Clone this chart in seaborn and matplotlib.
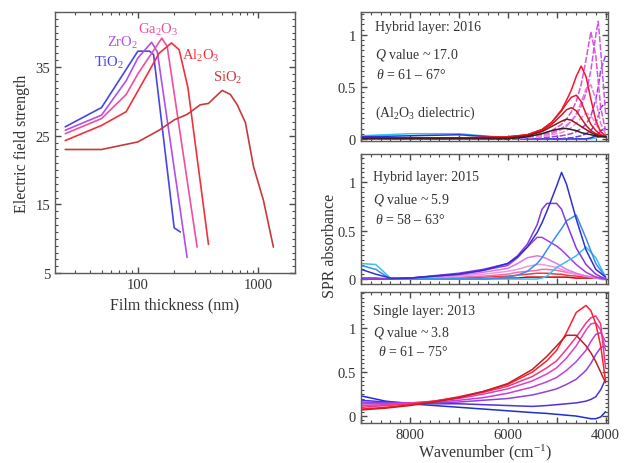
import numpy as np
import pandas as pd
import matplotlib
matplotlib.use('Agg')
import matplotlib.pyplot as plt
import matplotlib.ticker as mticker
import seaborn as sns

# ---- left panel: electric field strength vs film thickness ----
materials = ['TiO$_2$', 'ZrO$_2$', 'Ga$_2$O$_3$', 'Al$_2$O$_3$', 'SiO$_2$']
mat_colors = ['#4646e6', '#b050ea', '#ee4fa0', '#f2303c', '#c83a3a']

tio2_x = [25, 50, 100, 125, 135, 200, 225]
tio2_y = [26.3, 29.1, 37.3, 37.3, 36.8, 11.6, 11.0]
zro2_x = [25, 50, 80, 100, 130, 145, 256]
zro2_y = [25.8, 28.0, 33.0, 36.3, 38.6, 37.2, 7.3]
ga2o3_x = [25, 50, 80, 100, 158, 175, 310]
ga2o3_y = [25.3, 27.5, 31.0, 34.0, 39.2, 38.0, 8.8]
al2o3_x = [25, 50, 80, 100, 150, 190, 220, 260, 385]
al2o3_y = [24.3, 26.5, 28.5, 31.5, 37.0, 38.5, 37.5, 32.0, 9.2]
sio2_x = [25, 50, 100, 150, 200, 256, 329, 385, 500, 585, 667, 780, 910, 1100, 1330]
sio2_y = [23.0, 23.0, 24.1, 25.8, 27.3, 28.1, 29.5, 29.7, 31.6, 31.0, 29.5, 26.9, 20.5, 15.6, 8.8]

label_x = [58, 75, 147, 330, 560]
label_y = [35.8, 38.6, 40.6, 36.8, 33.5]

# ---- right panels: SPR absorbance spectra ----
# 2016 hybrid layer
wn_2016 = [9000, 8000, 7000, 6000, 5600, 5300, 5100, 4900, 4800, 4700, 4600, 4500, 4400, 4300, 4200, 4150, 4100, 4000]
spec_2016 = {
    '#30c8f8': [0.03, 0.05, 0.05, 0.01, 0.00, 0.00, 0.00, 0.00, 0.00, 0.00, 0.00, 0.00, 0.00, 0.00, 0.01, 0.02, 0.03, 0.04],
    '#3030d8': [0.02, 0.03, 0.04, 0.01, 0.00, 0.00, 0.00, 0.00, 0.00, 0.00, 0.00, 0.00, 0.00, 0.01, 0.03, 0.05, 0.08, 0.10],
    '#6a3ce6': [0.01, 0.01, 0.01, 0.00, 0.00, 0.00, 0.00, 0.00, 0.01, 0.01, 0.02, 0.03, 0.05, 0.08, 0.15, 0.22, 0.30, 0.35],
    '#9a44ea': [0.01, 0.01, 0.01, 0.00, 0.01, 0.01, 0.02, 0.03, 0.04, 0.05, 0.07, 0.10, 0.14, 0.22, 0.38, 0.50, 0.66, 0.80],
    '#cc58ea': [0.01, 0.01, 0.01, 0.01, 0.02, 0.04, 0.06, 0.10, 0.13, 0.17, 0.23, 0.31, 0.44, 0.66, 1.00, 1.13, 0.85, 0.25],
    '#e050d8': [0.01, 0.01, 0.01, 0.01, 0.02, 0.05, 0.08, 0.14, 0.19, 0.26, 0.36, 0.52, 0.76, 1.03, 0.80, 0.55, 0.30, 0.08],
    '#ec78e0': [0.01, 0.01, 0.01, 0.01, 0.02, 0.03, 0.05, 0.09, 0.12, 0.17, 0.24, 0.35, 0.48, 0.52, 0.38, 0.26, 0.15, 0.05],
    '#f090d8': [0.00, 0.00, 0.00, 0.01, 0.01, 0.02, 0.04, 0.06, 0.08, 0.11, 0.15, 0.20, 0.25, 0.22, 0.15, 0.10, 0.06, 0.03],
    '#ff1030': [0.01, 0.01, 0.01, 0.02, 0.04, 0.09, 0.16, 0.28, 0.37, 0.47, 0.60, 0.70, 0.60, 0.38, 0.18, 0.12, 0.07, 0.03],
    '#e81828': [0.01, 0.01, 0.01, 0.02, 0.04, 0.09, 0.16, 0.27, 0.34, 0.40, 0.42, 0.36, 0.24, 0.14, 0.08, 0.06, 0.04, 0.02],
    '#c81c20': [0.01, 0.01, 0.01, 0.01, 0.03, 0.08, 0.14, 0.23, 0.28, 0.30, 0.27, 0.20, 0.13, 0.08, 0.05, 0.04, 0.03, 0.02],
    '#901414': [0.01, 0.01, 0.01, 0.01, 0.03, 0.07, 0.12, 0.17, 0.19, 0.18, 0.15, 0.12, 0.09, 0.06, 0.04, 0.03, 0.03, 0.02],
    '#302020': [0.00, 0.00, 0.00, 0.00, 0.02, 0.05, 0.08, 0.10, 0.10, 0.09, 0.08, 0.06, 0.05, 0.04, 0.03, 0.02, 0.02, 0.02],
}
dashed_2016 = ['#6a3ce6', '#9a44ea', '#cc58ea', '#e050d8', '#ec78e0', '#f090d8']

# 2015 hybrid layer
wn_2015 = [9000, 8700, 8400, 8000, 7000, 6500, 6000, 5800, 5600, 5400, 5300, 5200, 5000, 4900, 4800, 4600, 4400, 4200, 4000]
spec_2015 = {
    '#cc0000': [0.01, 0.01, 0.00, 0.00, 0.00, 0.00, 0.01, 0.01, 0.02, 0.02, 0.02, 0.02, 0.02, 0.02, 0.02, 0.01, 0.01, 0.01, 0.00],
    '#f03848': [0.00, 0.00, 0.00, 0.00, 0.01, 0.02, 0.03, 0.04, 0.05, 0.06, 0.06, 0.06, 0.05, 0.05, 0.04, 0.03, 0.02, 0.01, 0.00],
    '#f070a0': [0.00, 0.00, 0.00, 0.01, 0.02, 0.03, 0.05, 0.07, 0.08, 0.09, 0.10, 0.10, 0.09, 0.08, 0.07, 0.05, 0.03, 0.02, 0.00],
    '#ee98e0': [0.00, 0.00, 0.00, 0.01, 0.03, 0.05, 0.08, 0.10, 0.13, 0.15, 0.15, 0.14, 0.12, 0.10, 0.08, 0.05, 0.03, 0.01, 0.00],
    '#dc78e4': [0.00, 0.00, 0.00, 0.01, 0.04, 0.07, 0.11, 0.16, 0.22, 0.24, 0.23, 0.21, 0.16, 0.13, 0.10, 0.06, 0.03, 0.01, 0.00],
    '#a040e0': [0.00, 0.00, 0.00, 0.01, 0.05, 0.09, 0.14, 0.22, 0.33, 0.43, 0.43, 0.40, 0.34, 0.30, 0.25, 0.15, 0.07, 0.02, 0.00],
    '#38c0f0': [0.16, 0.15, 0.01, 0.00, 0.00, 0.00, 0.00, 0.00, 0.00, 0.00, 0.01, 0.03, 0.12, 0.15, 0.18, 0.24, 0.33, 0.22, 0.02],
    '#3a8cf0': [0.14, 0.10, 0.00, 0.00, 0.00, 0.00, 0.02, 0.04, 0.08, 0.16, 0.22, 0.30, 0.45, 0.52, 0.60, 0.66, 0.42, 0.16, 0.02],
    '#8438e0': [0.00, 0.00, 0.00, 0.01, 0.06, 0.10, 0.16, 0.24, 0.36, 0.56, 0.72, 0.78, 0.78, 0.72, 0.58, 0.32, 0.15, 0.05, 0.00],
    '#3030d0': [0.10, 0.05, 0.01, 0.01, 0.05, 0.09, 0.16, 0.23, 0.33, 0.48, 0.58, 0.70, 0.96, 1.10, 0.98, 0.62, 0.30, 0.10, 0.02],
}

# 2013 single layer
wn_2013 = [9000, 8500, 8000, 7500, 7000, 6500, 6000, 5500, 5200, 5000, 4800, 4600, 4400, 4300, 4200, 4100, 4000]
spec_2013 = {
    '#1f30d0': [0.23, 0.17, 0.14, 0.12, 0.10, 0.08, 0.06, 0.04, 0.03, 0.02, 0.01, 0.00, -0.02, -0.03, -0.03, -0.01, 0.05],
    '#5030e0': [0.18, 0.16, 0.15, 0.14, 0.14, 0.13, 0.12, 0.11, 0.12, 0.13, 0.14, 0.15, 0.17, 0.19, 0.22, 0.30, 0.42],
    '#9040e0': [0.16, 0.15, 0.15, 0.15, 0.16, 0.18, 0.20, 0.24, 0.28, 0.31, 0.36, 0.42, 0.52, 0.60, 0.70, 0.78, 0.80],
    '#c040d8': [0.14, 0.14, 0.15, 0.16, 0.18, 0.21, 0.26, 0.33, 0.39, 0.44, 0.52, 0.62, 0.75, 0.85, 0.93, 0.95, 0.85],
    '#e040c0': [0.12, 0.13, 0.15, 0.17, 0.20, 0.25, 0.31, 0.40, 0.48, 0.55, 0.66, 0.80, 0.98, 1.05, 1.06, 0.98, 0.75],
    '#f03880': [0.10, 0.12, 0.14, 0.17, 0.21, 0.27, 0.34, 0.45, 0.55, 0.63, 0.76, 0.90, 1.06, 1.12, 1.14, 1.05, 0.55],
    '#ff2030': [0.08, 0.10, 0.13, 0.17, 0.22, 0.28, 0.36, 0.50, 0.63, 0.75, 0.95, 1.18, 1.26, 1.20, 1.05, 0.80, 0.40],
    '#c02020': [0.07, 0.09, 0.12, 0.16, 0.21, 0.28, 0.37, 0.53, 0.68, 0.80, 0.92, 0.92, 0.80, 0.72, 0.62, 0.50, 0.38],
}

panel_text = [
    ['Hybrid layer: 2016', '$Q$ value ~ 17.0', r'$\theta$ = 61 – 67°', '(Al$_2$O$_3$ dielectric)'],
    ['Hybrid layer: 2015', '$Q$ value ~ 5.9', r'$\theta$ = 58 – 63°'],
    ['Single layer: 2013', '$Q$ value ~ 3.8', r'$\theta$ = 61 – 75°'],
]

sns.set_theme(style='ticks')
plt.rcParams['font.family'] = ['Liberation Serif', 'DejaVu Serif']
plt.rcParams['mathtext.fontset'] = 'custom'
plt.rcParams['mathtext.rm'] = 'Liberation Serif'
plt.rcParams['mathtext.it'] = 'Liberation Serif:italic'
plt.rcParams['mathtext.bf'] = 'Liberation Serif:bold'

fig = plt.figure(figsize=(6.38, 4.64), dpi=100)


def style_axes(ax):
    for sp in ax.spines.values():
        sp.set_color('#5a5a5a')
        sp.set_linewidth(1.0)
    ax.minorticks_on()
    ax.tick_params(which='both', direction='in', top=True, right=True,
                   bottom=True, left=True, color='#4a4a4a',
                   labelcolor='#333333', labelsize=10.5)
    ax.tick_params(which='major', length=4.5, width=1.0)
    ax.tick_params(which='minor', length=2.5, width=0.8)


# left panel
ax0 = fig.add_axes([0.086, 0.409, 0.376, 0.563])
left_x = [tio2_x, zro2_x, ga2o3_x, al2o3_x, sio2_x]
left_y = [tio2_y, zro2_y, ga2o3_y, al2o3_y, sio2_y]
rows = []
for name, xs, ys in zip(materials, left_x, left_y):
    for a, b in zip(xs, ys):
        rows.append((name, a, b))
df_left = pd.DataFrame(rows, columns=['material', 'thickness', 'field'])
sns.lineplot(data=df_left, x='thickness', y='field', hue='material', hue_order=materials,
             palette=mat_colors, estimator=None, sort=True, lw=1.2, legend=False, ax=ax0)
ax0.set_xscale('log')
ax0.set_xlim(20.5, 2000)
ax0.set_ylim(5, 43)
style_axes(ax0)
ax0.yaxis.set_major_locator(mticker.FixedLocator([5, 15, 25, 35]))
ax0.yaxis.set_minor_locator(mticker.MultipleLocator(1))
ax0.xaxis.set_major_locator(mticker.FixedLocator([100, 1000]))
ax0.xaxis.set_major_formatter(mticker.FixedFormatter(['100', '1000']))
ax0.xaxis.set_minor_locator(mticker.LogLocator(subs=np.arange(2, 10)))
ax0.xaxis.set_minor_formatter(mticker.NullFormatter())
ax0.set_xlabel('Film thickness (nm)', fontsize=11.5, color='#333333')
ax0.set_ylabel('Electric field strength', fontsize=11.5, color='#333333')
for name, c, lx, ly in zip(materials, mat_colors, label_x, label_y):
    ax0.text(lx, ly, name, color=c, fontsize=10.5, ha='center', va='center')

# right panels
boxes = [[0.566, 0.694, 0.387, 0.278], [0.566, 0.386, 0.387, 0.280], [0.566, 0.086, 0.387, 0.282]]
ylims = [(-0.02, 1.22), (-0.05, 1.29), (-0.08, 1.41)]
spectra = [(wn_2016, spec_2016), (wn_2015, spec_2015), (wn_2013, spec_2013)]
text_y = [[0.884, 0.674, 0.52, 0.225], [0.83, 0.654, 0.5], [0.863, 0.695, 0.55]]
text_x = [[0.055, 0.055, 0.06, 0.055], [0.05, 0.05, 0.055], [0.05, 0.05, 0.07]]

for i in range(3):
    ax = fig.add_axes(boxes[i])
    wn, spec = spectra[i]
    for c, vals in spec.items():
        ls = (0, (4, 1.2)) if (i == 0 and c in dashed_2016) else '-'
        sns.lineplot(x=wn, y=vals, color=c, lw=1.1, linestyle=ls, estimator=None,
                     sort=False, ax=ax)
    ax.set_xlim(9000, 3950)
    ax.set_ylim(*ylims[i])
    style_axes(ax)
    ax.yaxis.set_major_locator(mticker.FixedLocator([0, 0.5, 1]))
    ax.yaxis.set_major_formatter(mticker.FixedFormatter(['0', '0.5', '1']))
    ax.yaxis.set_minor_locator(mticker.MultipleLocator(0.05))
    ax.xaxis.set_major_locator(mticker.MultipleLocator(1000))
    ax.xaxis.set_minor_locator(mticker.MultipleLocator(200))
    if i == 2:
        ax.xaxis.set_major_formatter(mticker.FuncFormatter(
            lambda v, p: '%d' % v if int(round(v)) % 2000 == 0 else ''))
    else:
        ax.xaxis.set_major_formatter(mticker.NullFormatter())
    for t, tx, ty in zip(panel_text[i], text_x[i], text_y[i]):
        ax.text(tx, ty, t, transform=ax.transAxes, fontsize=10, color='#333333',
                ha='left', va='center')

fig.text(0.517, 0.47, 'SPR absorbance', rotation=90, fontsize=11.5, color='#333333',
         ha='center', va='center')
fig.text(0.76, 0.025, 'Wavenumber (cm$^{-1}$)', fontsize=11.5, color='#333333',
         ha='center', va='center')

fig.savefig('out.png', dpi=100)
